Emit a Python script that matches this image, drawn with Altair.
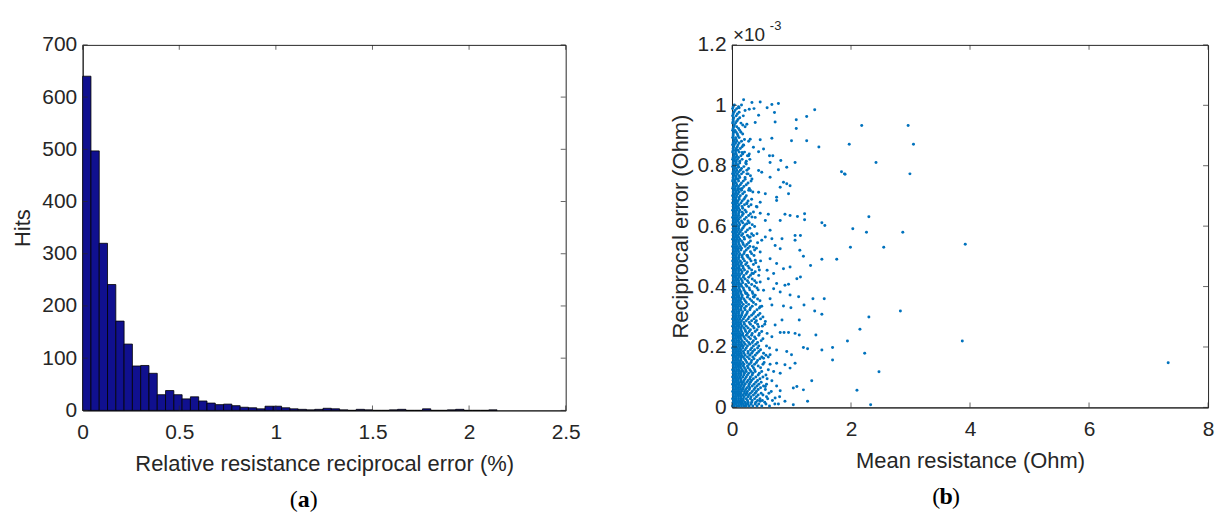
import altair as alt
import pandas as pd

# ---------------- (a) histogram ----------------
bin_width = 0.0429
hits = [640, 497, 320, 241, 171, 127, 85, 86, 71, 30,
        38, 30, 22, 26, 18, 14, 11, 12, 9, 6,
        5, 3, 8, 8, 5, 3, 2, 1, 2, 4,
        3, 1, 0, 2, 1, 0, 0, 1, 2, 0,
        0, 3, 0, 0, 1, 2, 0, 0, 0, 1]
hist_xticks = [0, 0.5, 1, 1.5, 2, 2.5]
hist_yticks = [0, 100, 200, 300, 400, 500, 600, 700]

hist_df = pd.DataFrame({
    "start": [i * bin_width for i in range(len(hits))],
    "end": [(i + 1) * bin_width for i in range(len(hits))],
    "hits": hits,
})

# ---------------- (b) scatter ----------------
sc_xticks = [0, 2, 4, 6, 8]
sc_yticks = [0, 0.2, 0.4, 0.6, 0.8, 1.0, 1.2]

# sparse points read individually (x in Ohm, y in 1e-3 Ohm)
sparse_x = [2.18, 2.96, 1.97, 3.05, 2.42, 1.89, 2.99, 2.30, 2.03, 2.26, 2.87, 1.99, 2.55, 3.92,
            2.83, 2.30, 2.15, 1.94, 3.87, 2.23, 2.47, 2.10, 2.33, 7.33,
            0.195, 0.335, 0.474, 0.67, 0.78, 0.12, 0.29, 0.37, 0.59, 1.39, 0.447, 0.714, 1.255,
            1.08, 0.725, 0.25, 0.39, 1.08, 0.67, 1.0, 1.255, 0.306, 0.474, 1.46, 0.195, 0.36,
            0.53, 0.17, 0.447, 0.63, 0.686, 0.28, 0.64, 0.82, 1.06, 0.24, 0.11, 0.447, 0.50,
            0.92, 0.78, 1.84, 1.90, 0.25, 0.64, 0.335, 0.865, 0.92, 0.976, 0.81, 0.14, 0.31,
            0.447, 0.56, 0.75, 0.95,
            0.474, 0.75, 0.89, 0.976, 1.10, 1.22, 1.22, 0.81, 0.56, 0.474, 0.61, 1.51, 1.56,
            0.64, 0.42, 0.56, 0.67, 0.84, 1.06, 1.15, 1.06, 0.50, 0.725, 0.81, 1.14, 1.20,
            0.474, 0.36, 0.25, 0.64, 0.75, 0.865, 0.976, 1.51, 1.76, 1.32, 0.447, 0.59, 0.70,
            0.61, 1.09, 1.15, 0.474, 0.75, 0.89, 0.95, 0.70, 0.53, 0.81, 0.976, 1.12, 1.36,
            1.55, 0.64, 0.36, 0.25, 0.335, 0.39, 0.306, 0.25, 0.335, 0.42, 0.25, 0.17,
            0.474, 0.67, 0.865, 0.99, 1.21, 1.39, 1.51, 1.13, 0.84, 0.56, 0.725, 0.447, 0.81,
            0.875, 0.95, 1.06, 1.13, 1.41, 0.59, 0.67, 1.20, 1.27, 1.51, 1.69, 1.69, 0.92,
            1.0, 0.75, 0.64, 0.53, 0.75, 0.89, 1.06, 0.976, 0.81, 0.67, 1.09, 1.03, 1.20,
            1.34, 0.81, 0.56, 0.725, 0.89, 1.03, 1.27, 0.474, 0.78]
sparse_y = [0.933, 0.933, 0.871, 0.871, 0.811, 0.773, 0.773, 0.631, 0.591, 0.580, 0.580, 0.530, 0.530, 0.540,
            0.319, 0.299, 0.259, 0.220, 0.220, 0.179, 0.118, 0.057, 0.009, 0.148,
            1.018, 1.009, 1.011, 1.003, 1.006, 0.992, 0.987, 0.989, 0.992, 0.985, 0.967, 0.976, 0.963,
            0.952, 0.945, 0.937, 0.943, 0.923, 0.891, 0.883, 0.883, 0.888, 0.886, 0.862, 0.868, 0.861,
            0.855, 0.844, 0.846, 0.833, 0.833, 0.833, 0.811, 0.817, 0.811, 0.806, 0.795, 0.784, 0.778,
            0.795, 0.787, 0.780, 0.772, 0.773, 0.762, 0.756, 0.745, 0.740, 0.734, 0.729, 0.723, 0.718,
            0.712, 0.707, 0.696, 0.707,
            0.679, 0.685, 0.639, 0.635, 0.632, 0.641, 0.621, 0.619, 0.619, 0.643, 0.639, 0.611, 0.602,
            0.586, 0.575, 0.564, 0.558, 0.558, 0.569, 0.569, 0.553, 0.553, 0.536, 0.525, 0.520, 0.500,
            0.514, 0.531, 0.503, 0.492, 0.476, 0.459, 0.465, 0.490, 0.490, 0.470, 0.465, 0.454, 0.443,
            0.426, 0.426, 0.432, 0.415, 0.410, 0.404, 0.408, 0.393, 0.388, 0.382, 0.372, 0.366, 0.360,
            0.360, 0.360, 0.366, 0.377, 0.443, 0.487, 0.564, 0.608, 0.630, 0.663, 0.674, 0.646,
            0.333, 0.339, 0.336, 0.330, 0.339, 0.319, 0.308, 0.289, 0.289, 0.284, 0.273, 0.267, 0.248,
            0.248, 0.248, 0.245, 0.240, 0.240, 0.245, 0.234, 0.198, 0.194, 0.190, 0.198, 0.157, 0.185,
            0.174, 0.190, 0.174, 0.163, 0.146, 0.141, 0.146, 0.130, 0.113, 0.088, 0.069, 0.064, 0.058,
            0.088, 0.055, 0.069, 0.031, 0.020, 0.009, 0.020, 0.020, 0.011]

# dense column near zero: each row = (y in 0.001e-3 units, x values in 0.01 Ohm units)
core_low = [
    (5, [1, 4, 8, 12, 16, 20, 24, 29, 35, 42, 50, 63]),
    (17, [2, 5, 9, 13, 17, 22, 27, 33, 40, 55]),
    (29, [1, 4, 7, 11, 15, 19, 24, 31, 38, 47, 60]),
    (41, [2, 6, 10, 14, 18, 23, 28, 36, 44, 52]),
    (53, [1, 5, 9, 12, 16, 21, 26, 34, 41, 66]),
    (65, [2, 6, 10, 14, 19, 25, 30, 39, 48]),
    (77, [1, 4, 8, 12, 17, 22, 29, 37, 45, 58]),
    (89, [2, 6, 10, 15, 20, 27, 33, 43]),
    (101, [1, 5, 9, 13, 18, 24, 31, 40, 52]),
    (113, [2, 6, 11, 15, 21, 28, 35, 46]),
    (125, [1, 4, 8, 12, 17, 23, 30, 38, 61]),
    (137, [2, 6, 10, 14, 19, 26, 34, 44]),
    (149, [1, 5, 9, 13, 18, 25, 32, 41, 54]),
    (161, [2, 6, 10, 15, 21, 29, 37, 47]),
    (173, [1, 4, 8, 12, 16, 22, 30, 39, 57]),
    (185, [2, 6, 10, 14, 19, 27, 35, 45]),
    (197, [1, 5, 9, 13, 18, 24, 33, 43, 63]),
    (209, [2, 6, 11, 16, 22, 30, 40]),
    (221, [1, 4, 8, 12, 17, 25, 36, 49]),
    (233, [2, 6, 10, 14, 20, 28, 38]),
    (245, [1, 5, 9, 13, 18, 26, 34, 46]),
    (257, [2, 6, 10, 15, 22, 31, 42]),
    (269, [1, 4, 8, 12, 17, 24, 35, 51]),
    (281, [2, 6, 10, 14, 20, 29, 39]),
    (293, [1, 5, 9, 13, 19, 27, 37, 48]),
    (305, [2, 6, 11, 16, 23, 33, 44]),
    (317, [1, 4, 8, 12, 18, 26, 38]),
    (329, [2, 6, 10, 15, 21, 31, 46]),
    (341, [1, 5, 9, 13, 19, 28, 40]),
]
core_low_fill = [
    (11, [3, 7, 11, 15, 19, 23, 27, 32, 39, 45, 57, 72]),
    (23, [3, 7, 11, 15, 19, 26, 34, 43, 51, 68]),
    (35, [3, 7, 11, 15, 20, 27, 32, 41, 58, 80]),
    (47, [3, 7, 11, 15, 21, 25, 31, 39, 49, 62]),
    (59, [3, 7, 11, 15, 18, 23, 29, 37, 44, 56]),
    (71, [3, 7, 11, 15, 20, 28, 34, 42, 53, 75]),
    (83, [3, 7, 11, 15, 19, 25, 31, 40, 49]),
    (95, [3, 7, 11, 15, 22, 30, 36, 47, 59]),
    (107, [3, 7, 11, 15, 20, 26, 34, 44, 57]),
    (119, [3, 7, 11, 15, 19, 24, 32, 39, 50, 70]),
    (131, [3, 7, 11, 15, 21, 27, 36, 48]),
    (143, [3, 7, 11, 15, 20, 29, 38, 52, 64]),
    (155, [3, 7, 11, 15, 23, 33, 43]),
    (167, [3, 7, 11, 15, 19, 26, 35, 50, 61]),
    (179, [3, 7, 11, 15, 20, 27, 33, 42, 53]),
    (191, [3, 7, 11, 15, 22, 31, 38, 48]),
    (203, [3, 7, 11, 15, 19, 26, 36, 45, 58]),
    (215, [3, 7, 11, 15, 20, 28, 34, 43]),
    (227, [3, 7, 11, 15, 22, 31, 40, 52]),
    (239, [3, 7, 11, 15, 18, 24, 33, 45]),
    (251, [3, 7, 11, 16, 23, 29, 39, 50]),
    (263, [3, 7, 11, 15, 20, 27, 37]),
    (275, [3, 7, 11, 15, 21, 31, 43, 55]),
    (287, [3, 7, 11, 16, 24, 33, 41]),
    (299, [3, 7, 11, 15, 21, 29, 40, 52]),
    (311, [3, 7, 11, 17, 25, 36, 47]),
    (323, [3, 7, 11, 15, 22, 30, 42]),
    (335, [3, 7, 11, 16, 24, 34, 50]),
]
core_mid = [
    (353, [2, 6, 10, 14, 22, 33, 47]),
    (365, [1, 4, 8, 12, 17, 26, 37]),
    (377, [2, 6, 10, 15, 23, 35]),
    (389, [1, 5, 9, 13, 20, 30, 44]),
    (401, [2, 6, 11, 16, 25, 38]),
    (413, [1, 4, 8, 12, 18, 28, 41]),
    (425, [2, 6, 10, 15, 22, 34]),
    (437, [1, 5, 9, 13, 20, 31, 45]),
    (449, [2, 6, 11, 17, 26, 39]),
    (461, [1, 4, 8, 12, 19, 29]),
    (473, [2, 6, 10, 15, 23, 36]),
    (485, [1, 5, 9, 14, 21, 32, 48]),
    (497, [2, 6, 11, 17, 27]),
    (509, [1, 4, 8, 13, 20, 33]),
    (521, [2, 6, 10, 15, 24, 38]),
    (533, [1, 5, 9, 14, 22, 30]),
    (545, [2, 6, 11, 18, 28, 43]),
    (557, [1, 4, 8, 13, 21]),
    (569, [2, 6, 10, 16, 26, 36]),
    (581, [1, 5, 9, 14, 23]),
    (593, [2, 6, 11, 18, 30]),
    (605, [1, 4, 8, 13, 22, 34]),
    (617, [2, 6, 10, 16, 27]),
    (629, [1, 5, 9, 14, 24, 39]),
    (641, [2, 6, 11, 19, 31]),
    (653, [1, 4, 8, 13, 22]),
    (665, [2, 6, 10, 17, 28, 41]),
    (677, [1, 5, 9, 15, 25]),
    (689, [2, 6, 12, 20, 33]),
]
core_mid_fill = [
    (347, [3, 7, 11, 16, 24, 36]),
    (359, [3, 7, 11, 15, 20, 30, 43]),
    (371, [3, 7, 11, 17, 27, 39]),
    (383, [3, 7, 11, 15, 22, 34]),
    (395, [3, 7, 12, 19, 29, 42]),
    (407, [3, 7, 11, 15, 23, 33]),
    (419, [3, 7, 11, 17, 26, 38]),
    (431, [3, 7, 12, 19, 28]),
    (443, [3, 7, 11, 16, 24, 36]),
    (455, [3, 7, 11, 15, 21, 33, 46]),
    (467, [3, 7, 12, 18, 27]),
    (479, [3, 7, 11, 16, 25, 40]),
    (491, [3, 7, 11, 19, 30]),
    (503, [3, 7, 12, 17, 26, 37]),
    (515, [3, 7, 11, 21, 31]),
    (527, [3, 7, 11, 16, 27, 41]),
    (539, [3, 7, 12, 19, 25]),
    (551, [3, 7, 11, 16, 31]),
    (563, [3, 7, 11, 20, 29]),
    (575, [3, 7, 12, 18, 33]),
    (587, [3, 7, 11, 16, 26]),
    (599, [3, 7, 11, 20, 38]),
    (611, [3, 7, 12, 18, 29]),
    (623, [3, 7, 11, 21]),
    (635, [3, 7, 11, 17, 28]),
    (647, [3, 7, 12, 24, 36]),
    (659, [3, 7, 11, 18]),
    (671, [3, 7, 12, 21, 32]),
    (683, [3, 7, 10, 17, 27]),
    (695, [3, 7, 12, 22]),
]
core_high = [
    (701, [1, 4, 8, 14, 24]),
    (713, [2, 7, 12, 21, 35]),
    (725, [1, 5, 10, 17, 29]),
    (737, [3, 8, 14, 24]),
    (749, [1, 5, 11, 19, 32]),
    (761, [2, 7, 13, 22]),
    (773, [1, 4, 9, 16, 27]),
    (785, [3, 8, 14, 25]),
    (797, [1, 5, 11, 20]),
    (809, [2, 7, 13, 23]),
    (821, [1, 4, 9, 17, 30]),
    (833, [3, 8, 15, 26]),
    (845, [1, 6, 12, 21]),
    (857, [2, 7, 14]),
    (869, [1, 4, 10, 19]),
    (881, [3, 8, 16, 28]),
    (893, [1, 6, 12]),
    (905, [2, 9, 18]),
    (917, [1, 5, 13]),
    (929, [3, 8, 22]),
    (941, [1, 6, 15]),
    (953, [2, 10]),
    (965, [1, 7, 19]),
    (977, [3, 12]),
    (989, [1, 8]),
    (1001, [4, 16]),
]
core_high_fill = [
    (707, [3, 6, 10, 18]), (719, [3, 6, 10, 16, 28]), (731, [2, 6, 11, 20]),
    (743, [3, 7, 16, 27]), (755, [2, 6, 10, 22]), (767, [3, 7, 12, 31]),
    (779, [2, 6, 11, 19]), (791, [3, 7, 16, 28]), (803, [2, 6, 10]),
    (815, [3, 7, 13, 24]), (827, [2, 6, 11]), (839, [3, 7, 18, 29]),
    (851, [2, 6, 10]), (863, [3, 9, 17]), (875, [2, 6, 12]),
    (887, [3, 7, 21]), (899, [2, 10]), (911, [3, 7, 15]),
    (923, [2, 11]), (935, [4, 18]), (947, [2, 8]),
    (959, [3, 13]), (971, [2, 9]), (983, [5, 22]), (995, [2, 11]),
]

pts_x = list(sparse_x)
pts_y = list(sparse_y)
for rows in (core_low, core_low_fill, core_mid, core_mid_fill, core_high, core_high_fill):
    for yv, xs in rows:
        for xv in xs:
            pts_x.append(xv / 100.0)
            pts_y.append(yv / 1000.0)
scatter_df = pd.DataFrame({"mean_res": pts_x, "rec_err": pts_y})

FONT = "Liberation Sans"
SERIF = "Liberation Serif"
TXT = "#262626"
LAB = 21
TIT = 22
TICK = 5

one = pd.DataFrame({"k": [0]})


def panel_label(letter, cx, y):
    a1 = alt.Chart(one).mark_text(text="(", font=SERIF, fontSize=24, align="right",
                                  baseline="middle", color="#000").encode(
        x=alt.value(cx - 6), y=alt.value(y))
    a2 = alt.Chart(one).mark_text(text=letter, font=SERIF, fontSize=24, fontWeight="bold",
                                  align="center", baseline="middle", color="#000").encode(
        x=alt.value(cx), y=alt.value(y))
    a3 = alt.Chart(one).mark_text(text=")", font=SERIF, fontSize=24, align="left",
                                  baseline="middle", color="#000").encode(
        x=alt.value(cx + 6), y=alt.value(y))
    return a1 + a2 + a3


def inner_ticks(xvals, yvals, xfield, yfield, xscale, yscale, xaxis, yaxis, w, h):
    xdf = pd.DataFrame({xfield: xvals})
    ydf = pd.DataFrame({yfield: yvals})
    layers = []
    for ypos in (h - TICK / 2, TICK / 2):
        layers.append(alt.Chart(xdf).mark_tick(color=TXT, size=TICK, thickness=1).encode(
            x=alt.X(f"{xfield}:Q", scale=xscale, axis=xaxis), y=alt.value(ypos)))
    for xpos in (TICK / 2, w - TICK / 2):
        layers.append(alt.Chart(ydf).mark_tick(color=TXT, size=TICK, thickness=1).encode(
            y=alt.Y(f"{yfield}:Q", scale=yscale, axis=yaxis), x=alt.value(xpos)))
    return layers


# ---------------- left panel ----------------
W1, H1 = 485, 367
xs1 = alt.Scale(domain=[0, 2.5], nice=False)
ys1 = alt.Scale(domain=[0, 700], nice=False)
xa1 = alt.Axis(values=hist_xticks, format="~g", title="Relative resistance reciprocal error (%)")
ya1 = alt.Axis(values=hist_yticks, title="Hits", titlePadding=7)
bars = alt.Chart(hist_df).mark_bar(color="#10108f", stroke="#000000", strokeWidth=0.8).encode(
    x=alt.X("start:Q", scale=xs1, axis=xa1),
    x2="end:Q",
    y=alt.Y("hits:Q", scale=ys1, axis=ya1),
    y2=alt.datum(0),
)

left = alt.layer(
    bars,
    *inner_ticks(hist_xticks, hist_yticks, "start", "hits", xs1, ys1, xa1, ya1, W1, H1),
    panel_label("a", 222, 457),
).properties(width=W1, height=H1)

# ---------------- right panel ----------------
W2, H2 = 478, 364
xs2 = alt.Scale(domain=[0, 8], nice=False)
ys2 = alt.Scale(domain=[0, 1.2], nice=False)
xa2 = alt.Axis(values=sc_xticks, title="Mean resistance (Ohm)")
ya2 = alt.Axis(values=sc_yticks, format="~g", title="Reciprocal error (Ohm)", titlePadding=4)
pts = alt.Chart(scatter_df).mark_circle(size=9, color="#0072BD", opacity=1).encode(
    x=alt.X("mean_res:Q", scale=xs2, axis=xa2),
    y=alt.Y("rec_err:Q", scale=ys2, axis=ya2),
)
exp1 = alt.Chart(one).mark_text(text="×10", font=FONT, fontSize=19, align="left",
                                baseline="middle", color=TXT).encode(
    x=alt.value(1), y=alt.value(-10))
exp2 = alt.Chart(one).mark_text(text="-3", font=FONT, fontSize=13, align="left",
                                baseline="middle", color=TXT).encode(
    x=alt.value(38), y=alt.value(-19))

right = alt.layer(
    pts,
    *inner_ticks(sc_xticks, sc_yticks, "mean_res", "rec_err", xs2, ys2, xa2, ya2, W2, H2),
    exp1, exp2,
    panel_label("b", 215, 454),
).properties(width=W2, height=H2)

chart = alt.hconcat(left, right, spacing=88).properties(
    padding={"left": 11, "top": 18, "right": 5, "bottom": 5}
).configure_view(stroke=TXT, strokeWidth=1).configure_axis(
    grid=False, ticks=False, labelFont=FONT, titleFont=FONT, labelFontSize=LAB,
    titleFontSize=TIT, titleFontWeight="normal", labelColor=TXT, titleColor=TXT,
    domainColor=TXT, labelPadding=6, labelFlush=False, labelOverlap=False,
).configure_axisX(titlePadding=11, labelPadding=11)

chart.save("out.html", embed_options={"renderer": "svg", "actions": False})
